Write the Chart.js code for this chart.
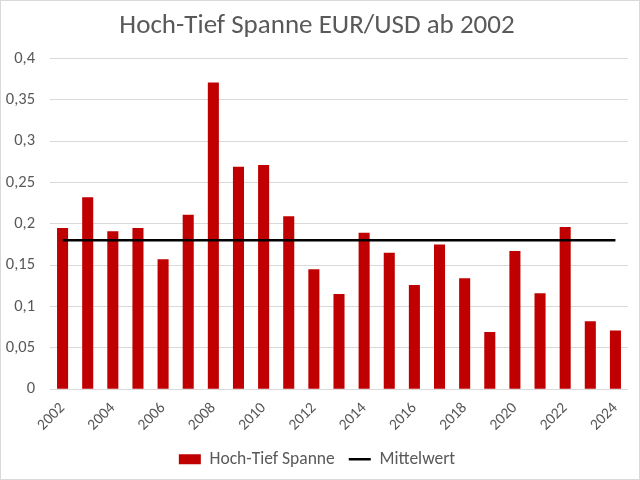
<!DOCTYPE html>
<html>
<head>
<meta charset="utf-8">
<script src="https://cdn.jsdelivr.net/npm/chart.js@4"></script>
<style>
html,body{margin:0;padding:0;background:#fff;}
#wrap{position:relative;width:640px;height:480px;box-sizing:border-box;border:1px solid #d9d9d9;}
canvas{display:block;}
</style>
</head>
<body>
<div id="wrap"><canvas id="c" width="638" height="478"></canvas></div>
<script>
const years = ["2002","2003","2004","2005","2006","2007","2008","2009","2010","2011","2012","2013","2014","2015","2016","2017","2018","2019","2020","2021","2022","2023","2024"];
const spanne = [0.195,0.232,0.191,0.195,0.157,0.211,0.371,0.269,0.271,0.209,0.145,0.115,0.189,0.165,0.126,0.175,0.134,0.069,0.167,0.116,0.196,0.082,0.071];
const mittelwert = [0.18,0.18,0.18,0.18,0.18,0.18,0.18,0.18,0.18,0.18,0.18,0.18,0.18,0.18,0.18,0.18,0.18,0.18,0.18,0.18,0.18,0.18,0.18];
const yTicks = [0,0.05,0.1,0.15,0.2,0.25,0.3,0.35,0.4];

const FONT = "Carlito, Lato, 'Liberation Sans', sans-serif";
const GREY = "#595959";

new Chart(document.getElementById('c'), {
  type: 'bar',
  data: {
    labels: years,
    datasets: [
      {
        type: 'line',
        label: 'Mittelwert',
        data: mittelwert,
        borderColor: '#000000',
        backgroundColor: '#000000',
        borderWidth: 2.5,
        pointRadius: 0,
        pointStyle: 'line',
        order: 0
      },
      {
        label: 'Hoch-Tief Spanne',
        data: spanne,
        backgroundColor: '#C00000',
        borderWidth: 0,
        categoryPercentage: 0.88,
        barPercentage: 0.5,
        pointStyle: 'rect',
        order: 1
      }
    ]
  },
  options: {
    responsive: false,
    animation: false,
    layout: { padding: { left: 5, right: 11, top: 2, bottom: 1 } },
    plugins: {
      title: {
        display: true,
        text: 'Hoch-Tief Spanne EUR/USD ab 2002',
        color: GREY,
        font: { family: FONT, size: 27, weight: 'normal' },
        padding: { top: 7, bottom: 16 }
      },
      legend: {
        position: 'bottom',
        reverse: true,
        labels: {
          color: GREY,
          font: { family: FONT, size: 17.5 },
          usePointStyle: true,
          pointStyleWidth: 22,
          boxHeight: 10,
          padding: 14
        }
      },
      tooltip: { enabled: false }
    },
    scales: {
      x: {
        grid: { display: false },
        border: { display: false },
        afterFit: function(axis) { axis.paddingLeft = 0; axis.paddingRight = 0; },
        ticks: {
          autoSkip: false,
          maxRotation: 45,
          minRotation: 45,
          color: GREY,
          padding: 2,
          font: { family: FONT, size: 15.5 },
          callback: function(v, i) { return i % 2 === 0 ? years[i] : ''; }
        }
      },
      y: {
        min: 0,
        max: 0.4,
        afterBuildTicks: function(axis) { axis.ticks = yTicks.map(v => ({ value: v })); },
        afterFit: function(axis) { axis.width = 44; },
        grid: { color: '#d9d9d9', drawTicks: false, lineWidth: 1 },
        border: { display: false },
        ticks: {
          color: GREY,
          padding: 15,
          font: { family: FONT, size: 16.5 },
          callback: function(v) { return String(Math.round(v * 100) / 100).replace('.', ','); }
        }
      }
    }
  }
});
</script>
</body>
</html>
